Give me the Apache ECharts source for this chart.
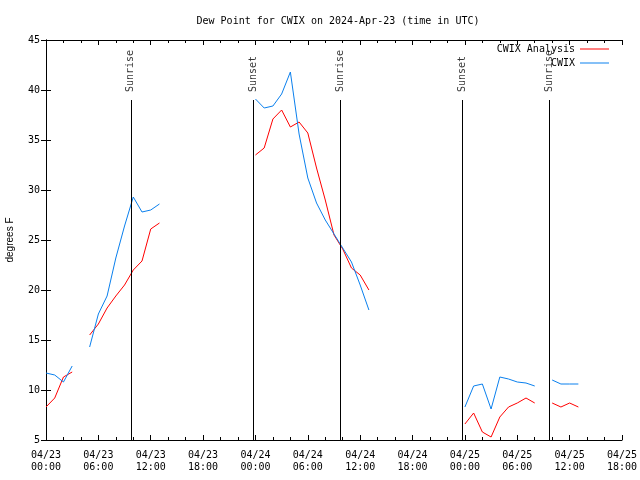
<!DOCTYPE html>
<html><head><meta charset="utf-8">
<script src="https://cdn.jsdelivr.net/npm/echarts@6/dist/echarts.min.js"></script>
<style>html,body{margin:0;padding:0;background:#fff}#c{width:640px;height:480px}</style>
</head><body><div id="c"></div>
<script>
// hours since 2024-04-23 00:00 UTC; null = gap in data
const hours = [0,1,2,3,4, 5,6,7,8,9,10,11,12,13,14, 24,25,26,27,28,29,30,31,32,33,34,35,36,37,38, 48,49,50,51,52,53,54,55,56,57, 58,59,60,61];
const analysis = [8.3,9.2,11.3,11.8,null, 15.5,16.6,18.2,19.4,20.5,22.0,22.9,26.1,26.7,null, 33.5,34.2,37.1,38.0,36.3,36.8,35.7,32.2,29.0,25.5,24.1,22.2,21.5,20.0,null, 6.6,7.7,5.8,5.3,7.3,8.3,8.7,9.2,8.7,null, 8.7,8.3,8.7,8.3];
const observed = [11.7,11.5,10.8,12.4,null, 14.3,17.6,19.4,23.2,26.4,29.3,27.8,28.0,28.6,null, 39.1,38.2,38.4,39.6,41.8,35.6,31.2,28.7,27.0,25.6,24.2,22.8,20.5,18.0,null, 8.3,10.4,10.6,8.1,11.3,11.1,10.8,10.7,10.4,null, 11.0,10.6,10.6,10.6];
const sunHours = [9.72, 23.72, 33.70, 47.74, 57.72];
const sunLabels = ['Sunrise','Sunset','Sunrise','Sunset','Sunrise'];
const xTickLabels = ['04/23\n00:00','04/23\n06:00','04/23\n12:00','04/23\n18:00','04/24\n00:00','04/24\n06:00','04/24\n12:00','04/24\n18:00','04/25\n00:00','04/25\n06:00','04/25\n12:00','04/25\n18:00'];
const yTicks = [5,10,15,20,25,30,35,40,45];

const MONO = '"DejaVu Sans Mono", "Liberation Mono", monospace';
const toPairs = arr => hours.map((h,i) => [h, arr[i] == null ? '-' : arr[i]]);

const chart = echarts.init(document.getElementById('c'), null, {renderer:'canvas'});
const xBase = {type:'value', min:0, max:66, interval:6,
  axisLine:{show:true, lineStyle:{color:'#000', width:1}},
  axisTick:{show:true, inside:true, length:5, lineStyle:{color:'#000'}},
  minorTick:{show:true, splitNumber:3, length:3, lineStyle:{color:'#000'}},
  splitLine:{show:false}};
const yBase = {type:'value', min:yTicks[0], max:yTicks[yTicks.length-1], interval:5,
  axisLine:{show:true, lineStyle:{color:'#000', width:1}},
  axisTick:{show:true, inside:true, length:5, lineStyle:{color:'#000'}},
  splitLine:{show:false}};

chart.setOption({
  animation:false,
  backgroundColor:'#fff',
  title:{text:'Dew Point for CWIX on 2024-Apr-23 (time in UTC)', left:333, top:11, textAlign:'center',
    textStyle:{fontFamily:MONO, fontSize:10, fontWeight:'normal', color:'#000'}},
  grid:{left:46, right:18, top:40, bottom:40, containLabel:false, outerBoundsMode:'none'},
  legend:{data:['CWIX Analysis','CWIX'], orient:'vertical', right:26, top:39, align:'right',
    icon:'rect', itemWidth:29, itemHeight:1, itemGap:4,
    textStyle:{fontFamily:MONO, fontSize:10, color:'#000', lineHeight:10}},
  xAxis:[
    Object.assign({}, xBase, {position:'bottom',
      axisLabel:{show:true, margin:9, lineHeight:12, fontFamily:MONO, fontSize:10, color:'#000',
        formatter:v => xTickLabels[Math.round(v/6)]}}),
    Object.assign({}, xBase, {position:'top', axisLabel:{show:false}})
  ],
  yAxis:[
    Object.assign({}, yBase, {position:'left', name:'degrees F', nameLocation:'middle', nameGap:31, nameRotate:90,
      nameTextStyle:{fontFamily:'"Liberation Sans", Arial, sans-serif', fontSize:10, color:'#000'},
      axisLabel:{show:true, margin:6, fontFamily:MONO, fontSize:10, color:'#000'}}),
    Object.assign({}, yBase, {position:'right', axisLabel:{show:false}})
  ],
  series:[
    {name:'CWIX Analysis', type:'line', xAxisIndex:0, yAxisIndex:0, data:toPairs(analysis),
      showSymbol:false, symbol:'none', connectNulls:false, color:'#ff0000',
      lineStyle:{color:'#ff0000', width:1}},
    {name:'CWIX', type:'line', xAxisIndex:0, yAxisIndex:0, data:toPairs(observed),
      showSymbol:false, symbol:'none', connectNulls:false, color:'#0a80ee',
      lineStyle:{color:'#0a80ee', width:1}},
    {name:'sun', type:'scatter', xAxisIndex:0, yAxisIndex:0, symbolSize:0, silent:true,
      data:sunHours.map((t,i) => ({value:[t,39], label:{formatter:sunLabels[i]}})),
      label:{show:true, position:'top', distance:7, rotate:90, align:'left', verticalAlign:'middle',
        offset:[1,0], fontFamily:MONO, fontSize:10, color:'#000'},
      markLine:{silent:true, symbol:['none','none'], label:{show:false},
        lineStyle:{color:'#000', width:1, type:'solid'},
        emphasis:{disabled:true},
        data:sunHours.map(t => [{coord:[t,39]},{coord:[t,5]}])}}
  ]
});
</script></body></html>
